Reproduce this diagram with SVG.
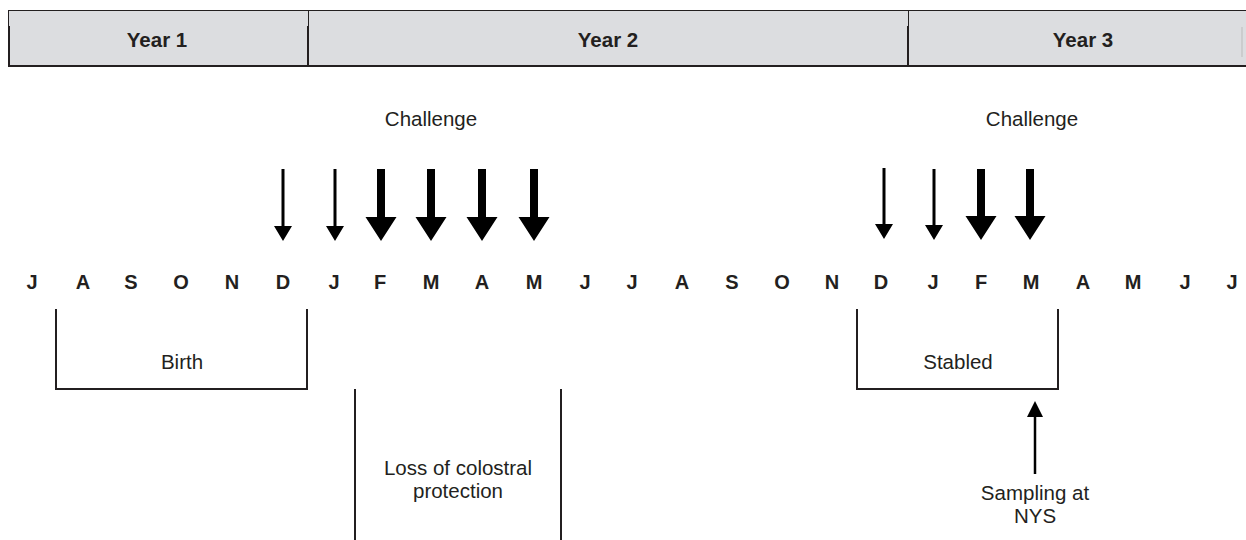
<svg xmlns="http://www.w3.org/2000/svg" width="1246" height="540" viewBox="0 0 1246 540">
<style>
.yr{font-family:"Liberation Sans",Arial,sans-serif;font-weight:bold;font-size:20.5px;fill:#231f20;text-anchor:middle}
.mo{font-family:"Liberation Sans",Arial,sans-serif;font-weight:bold;font-size:20px;fill:#231f20;text-anchor:middle}
.lb{font-family:"Liberation Sans",Arial,sans-serif;font-size:20.5px;fill:#231f20;text-anchor:middle}
.ln{stroke:#231f20;stroke-width:2;fill:none}
.hd{stroke:#231f20;fill:none}
.ar{fill:#000}
</style>
<g id="header">
<rect x="9" y="10" width="1237" height="57" fill="#dcdde0"/>
<line class="hd" x1="9" y1="10.5" x2="1246" y2="10.5" stroke-width="1"/>
<line class="hd" x1="8" y1="66" x2="1246" y2="66" stroke-width="2"/>
<path class="hd" d="M8.5 10 V27 M308.5 10 V27 M908.5 10 V27" stroke-width="1"/>
<path class="hd" d="M9 26 V67 M308 26 V67 M908 26 V67" stroke-width="2"/>
<line x1="1242" y1="27" x2="1242" y2="57" stroke="#bbbbbb" stroke-width="1"/>
<text class="yr" x="157" y="47">Year 1</text>
<text class="yr" x="608" y="47">Year 2</text>
<text class="yr" x="1083" y="47">Year 3</text>
</g>
<g id="challenge-labels">
<text class="lb" x="431" y="126">Challenge</text>
<text class="lb" x="1032" y="126">Challenge</text>
</g>
<g id="months">
<text class="mo" x="32" y="289">J</text>
<text class="mo" x="83" y="289">A</text>
<text class="mo" x="131" y="289">S</text>
<text class="mo" x="181" y="289">O</text>
<text class="mo" x="232" y="289">N</text>
<text class="mo" x="283" y="289">D</text>
<text class="mo" x="334" y="289">J</text>
<text class="mo" x="380" y="289">F</text>
<text class="mo" x="431" y="289">M</text>
<text class="mo" x="482" y="289">A</text>
<text class="mo" x="534" y="289">M</text>
<text class="mo" x="585" y="289">J</text>
<text class="mo" x="632" y="289">J</text>
<text class="mo" x="682" y="289">A</text>
<text class="mo" x="732" y="289">S</text>
<text class="mo" x="782" y="289">O</text>
<text class="mo" x="832" y="289">N</text>
<text class="mo" x="881" y="289">D</text>
<text class="mo" x="933" y="289">J</text>
<text class="mo" x="981" y="289">F</text>
<text class="mo" x="1031" y="289">M</text>
<text class="mo" x="1083" y="289">A</text>
<text class="mo" x="1133" y="289">M</text>
<text class="mo" x="1185" y="289">J</text>
<text class="mo" x="1232" y="289">J</text>
</g>
<g id="connectors">
<path class="ar" d="M281.5 169 h3 v57 h7.5 l-9 15 l-9 -15 h7.5 z"/>
<path class="ar" d="M333.5 169 h3 v57 h7.5 l-9 15 l-9 -15 h7.5 z"/>
<path class="ar" d="M882.5 168 h3 v56 h7.5 l-9 15 l-9 -15 h7.5 z"/>
<path class="ar" d="M932.5 169 h3 v56 h7.5 l-9 15 l-9 -15 h7.5 z"/>
<path class="ar" d="M377 169 h8 v48 h11.5 l-15.5 24 l-15.5 -24 h11.5 z"/>
<path class="ar" d="M427 169 h8 v48 h11.5 l-15.5 24 l-15.5 -24 h11.5 z"/>
<path class="ar" d="M478 169 h8 v48 h11.5 l-15.5 24 l-15.5 -24 h11.5 z"/>
<path class="ar" d="M530 169 h8 v48 h11.5 l-15.5 24 l-15.5 -24 h11.5 z"/>
<path class="ar" d="M977 169 h8 v47 h11.5 l-15.5 24 l-15.5 -24 h11.5 z"/>
<path class="ar" d="M1026 169 h8 v47 h11.5 l-15.5 24 l-15.5 -24 h11.5 z"/>
<line x1="1035" y1="415" x2="1035" y2="474" stroke="#000" stroke-width="2.5"/>
<path class="ar" d="M1035 401 l8 16 h-16 z"/>
</g>
<g id="birth">
<path class="ln" d="M56 309 V389 H307 V309"/>
<text class="lb" x="182" y="369">Birth</text>
</g>
<g id="loss">
<line class="ln" x1="355" y1="389" x2="355" y2="540"/>
<line class="ln" x1="561" y1="389" x2="561" y2="540"/>
<text class="lb" x="458" y="475">Loss of colostral</text>
<text class="lb" x="458" y="498">protection</text>
</g>
<g id="stabled">
<path class="ln" d="M857 309 V389 H1058 V309"/>
<text class="lb" x="958" y="369">Stabled</text>
</g>
<g id="sampling">
<text class="lb" x="1035" y="500">Sampling at</text>
<text class="lb" x="1035" y="523">NYS</text>
</g>
</svg>
